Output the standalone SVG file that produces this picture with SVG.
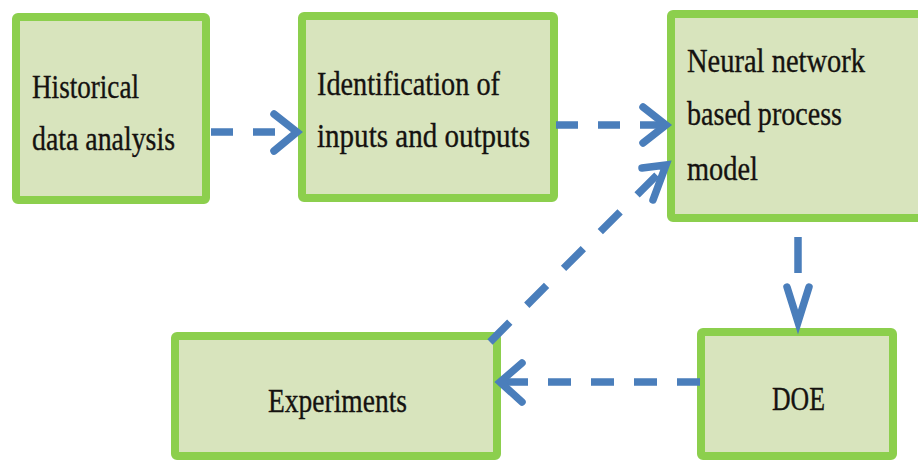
<svg xmlns="http://www.w3.org/2000/svg" width="918" height="463" viewBox="0 0 918 463">
  <style>
    .box { fill: #D8E4BD; stroke: #8CCF4D; stroke-width: 8; stroke-linejoin: round; }
    .lbl { font-family: "Liberation Serif", "Times New Roman", serif; font-size: 34px; fill: #151210; stroke: #151210; stroke-width: 0.35; }
    .dash { fill: none; stroke: #4A7EBB; stroke-width: 7.5; stroke-linecap: butt; }
    .head { fill: none; stroke: #4A7EBB; stroke-width: 7.5; stroke-linecap: round; stroke-linejoin: miter; }
  </style>
  <rect width="918" height="463" fill="#FFFFFF"/>

  <g id="node-historical">
    <rect class="box" x="16" y="17" width="190" height="183" rx="2"/>
    <text class="lbl" x="32" y="98" textLength="107" lengthAdjust="spacingAndGlyphs">Historical</text>
    <text class="lbl" x="32" y="150" textLength="143" lengthAdjust="spacingAndGlyphs">data analysis</text>
  </g>

  <g id="node-identification">
    <rect class="box" x="302" y="16" width="252" height="182" rx="2"/>
    <text class="lbl" x="317" y="95" textLength="183" lengthAdjust="spacingAndGlyphs">Identification of</text>
    <text class="lbl" x="317" y="147" textLength="213" lengthAdjust="spacingAndGlyphs">inputs and outputs</text>
  </g>

  <g id="node-neural">
    <rect class="box" x="671" y="14" width="262" height="204" rx="2"/>
    <text class="lbl" x="687" y="72" textLength="178" lengthAdjust="spacingAndGlyphs">Neural network</text>
    <text class="lbl" x="687" y="125" textLength="155" lengthAdjust="spacingAndGlyphs">based process</text>
    <text class="lbl" x="687" y="180" textLength="71" lengthAdjust="spacingAndGlyphs">model</text>
  </g>

  <g id="node-doe">
    <rect class="box" x="701" y="332" width="192" height="124" rx="2"/>
    <text class="lbl" x="772" y="410" textLength="53" lengthAdjust="spacingAndGlyphs">DOE</text>
  </g>

  <g id="node-experiments">
    <rect class="box" x="175" y="336" width="322" height="120" rx="2"/>
    <text class="lbl" x="268" y="412" textLength="139" lengthAdjust="spacingAndGlyphs">Experiments</text>
  </g>

  <g id="connectors">
    <!-- Historical -> Identification -->
    <line class="dash" x1="211" y1="132" x2="296" y2="132" stroke-dasharray="22 20"/>
    <polyline class="head" points="274,114 297,132 274,151"/>
    <!-- Identification -> Neural -->
    <line class="dash" x1="556" y1="125" x2="664" y2="125" stroke-dasharray="22 20"/>
    <polyline class="head" points="643,107 666,125 643,143"/>
    <!-- Experiments -> Neural -->
    <line class="dash" x1="490" y1="342" x2="666" y2="166" stroke-dasharray="28 24"/>
    <polyline class="head" points="642,168 666,165 653,200"/>
    <!-- Neural -> DOE -->
    <line class="dash" x1="798" y1="237" x2="798" y2="273"/>
    <polyline class="head" points="787,287 798,322 809,287"/>
    <!-- DOE -> Experiments -->
    <line class="dash" x1="700" y1="382" x2="502" y2="382" stroke-dasharray="23 20"/>
    <polyline class="head" points="522,363 500,382 522,402"/>
  </g>
</svg>
